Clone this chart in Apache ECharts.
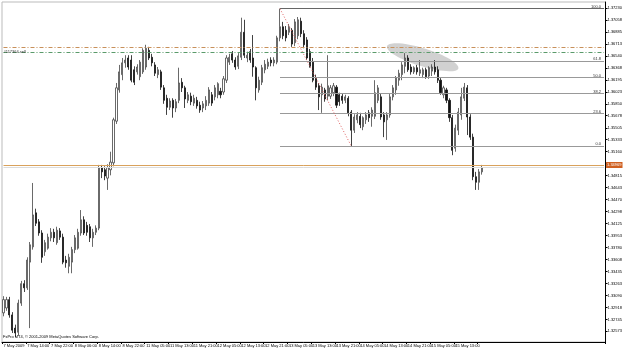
<!DOCTYPE html>
<html>
<head>
<meta charset="utf-8">
<script src="https://cdn.jsdelivr.net/npm/echarts@6/dist/echarts.min.js"></script>
<style>
html,body{margin:0;padding:0;background:#fff}
#main{width:625px;height:350px}
</style>
</head>
<body>
<div id="main"></div>
<script>
// EURUSD H1, 7-15 May 2009 : [open, close, low, high]
var candles = [
[1.3284,1.3303,1.3279,1.3308],[1.3291,1.3303,1.3287,1.3307],[1.3303,1.3281,1.3277,1.3307],[1.3281,1.3259,1.3255,1.3285],
[1.3262,1.3255,1.3249,1.3267],[1.3256,1.3298,1.3251,1.3303],[1.3298,1.3326,1.3294,1.3330],[1.3326,1.3320,1.3314,1.3331],
[1.3320,1.3360,1.3317,1.3364],[1.3357,1.3382,1.3262,1.3386],[1.3379,1.3425,1.3375,1.3471],[1.3428,1.3413,1.3409,1.3434],
[1.3415,1.3399,1.3395,1.3419],[1.3399,1.3364,1.3356,1.3403],[1.3372,1.3385,1.3366,1.3389],[1.3377,1.3393,1.3375,1.3398],
[1.3392,1.3400,1.3387,1.3406],[1.3400,1.3392,1.3386,1.3405],[1.3385,1.3403,1.3382,1.3408],[1.3402,1.3393,1.3389,1.3406],
[1.3393,1.3357,1.3354,1.3398],[1.3360,1.3356,1.3349,1.3366],[1.3351,1.3364,1.3341,1.3369],[1.3357,1.3375,1.3341,1.3379],
[1.3375,1.3392,1.3370,1.3396],[1.3377,1.3400,1.3375,1.3405],[1.3399,1.3418,1.3395,1.3432],[1.3418,1.3399,1.3396,1.3423],
[1.3410,1.3400,1.3395,1.3415],[1.3408,1.3392,1.3386,1.3412],[1.3392,1.3400,1.3379,1.3405],[1.3400,1.3406,1.3396,1.3410],
[1.3406,1.3493,1.3403,1.3497],[1.3493,1.3487,1.3478,1.3497],[1.3490,1.3481,1.3475,1.3495],[1.3478,1.3493,1.3461,1.3498],
[1.3490,1.3501,1.3482,1.3516],[1.3500,1.3562,1.3495,1.3565],[1.3560,1.3608,1.3556,1.3615],[1.3605,1.3631,1.3601,1.3641],
[1.3627,1.3644,1.3619,1.3651],[1.3644,1.3648,1.3637,1.3655],[1.3651,1.3638,1.3634,1.3655],[1.3648,1.3619,1.3616,1.3655],
[1.3634,1.3616,1.3612,1.3639],[1.3631,1.3638,1.3627,1.3642],[1.3624,1.3645,1.3619,1.3648],[1.3631,1.3662,1.3628,1.3665],
[1.3638,1.3665,1.3634,1.3670],[1.3662,1.3651,1.3648,1.3667],[1.3652,1.3644,1.3639,1.3657],[1.3641,1.3629,1.3625,1.3645],
[1.3627,1.3634,1.3622,1.3638],[1.3631,1.3609,1.3605,1.3634],[1.3608,1.3590,1.3585,1.3612],[1.3593,1.3580,1.3569,1.3598],
[1.3580,1.3589,1.3576,1.3593],[1.3590,1.3579,1.3565,1.3593],[1.3579,1.3588,1.3573,1.3592],[1.3590,1.3615,1.3586,1.3637],
[1.3616,1.3608,1.3602,1.3622],[1.3608,1.3592,1.3579,1.3611],[1.3590,1.3598,1.3586,1.3602],[1.3596,1.3588,1.3583,1.3601],
[1.3586,1.3593,1.3582,1.3598],[1.3590,1.3582,1.3578,1.3595],[1.3583,1.3576,1.3572,1.3588],[1.3579,1.3585,1.3573,1.3589],
[1.3582,1.3590,1.3576,1.3596],[1.3586,1.3605,1.3582,1.3609],[1.3598,1.3586,1.3582,1.3602],[1.3595,1.3608,1.3590,1.3612],
[1.3598,1.3614,1.3593,1.3616],[1.3603,1.3598,1.3593,1.3608],[1.3602,1.3621,1.3598,1.3625],[1.3619,1.3651,1.3615,1.3655],
[1.3645,1.3652,1.3641,1.3657],[1.3657,1.3648,1.3644,1.3661],[1.3648,1.3638,1.3634,1.3652],[1.3639,1.3654,1.3635,1.3658],
[1.3652,1.3688,1.3648,1.3709],[1.3688,1.3655,1.3651,1.3706],[1.3651,1.3655,1.3645,1.3660],[1.3660,1.3648,1.3644,1.3664],
[1.3651,1.3638,1.3624,1.3684],[1.3637,1.3608,1.3590,1.3639],[1.3605,1.3619,1.3601,1.3624],[1.3616,1.3637,1.3612,1.3641],
[1.3634,1.3642,1.3629,1.3648],[1.3639,1.3645,1.3635,1.3650],[1.3648,1.3644,1.3639,1.3652],[1.3644,1.3648,1.3639,1.3652],
[1.3645,1.3680,1.3642,1.3683],[1.3680,1.3696,1.3675,1.3722],[1.3696,1.3683,1.3678,1.3703],[1.3691,1.3680,1.3675,1.3697],
[1.3688,1.3696,1.3684,1.3700],[1.3691,1.3671,1.3667,1.3694],[1.3673,1.3703,1.3668,1.3707],[1.3683,1.3706,1.3678,1.3710],
[1.3704,1.3686,1.3681,1.3709],[1.3686,1.3670,1.3665,1.3691],[1.3677,1.3651,1.3648,1.3681],[1.3660,1.3639,1.3637,1.3664],
[1.3645,1.3619,1.3616,1.3651],[1.3622,1.3609,1.3605,1.3627],[1.3611,1.3595,1.3576,1.3615],[1.3598,1.3609,1.3572,1.3614],
[1.3605,1.3592,1.3588,1.3608],[1.3596,1.3611,1.3590,1.3655],[1.3596,1.3608,1.3592,1.3612],[1.3601,1.3611,1.3596,1.3615],
[1.3609,1.3583,1.3579,1.3612],[1.3598,1.3588,1.3582,1.3601],[1.3596,1.3590,1.3585,1.3599],[1.3590,1.3595,1.3586,1.3598],
[1.3593,1.3572,1.3567,1.3596],[1.3573,1.3547,1.3524,1.3576],[1.3547,1.3566,1.3543,1.3570],[1.3562,1.3569,1.3557,1.3573],
[1.3567,1.3555,1.3550,1.3572],[1.3552,1.3565,1.3547,1.3567],[1.3562,1.3569,1.3556,1.3573],[1.3572,1.3565,1.3559,1.3576],
[1.3567,1.3576,1.3552,1.3580],[1.3567,1.3601,1.3563,1.3619],[1.3590,1.3608,1.3586,1.3612],[1.3595,1.3566,1.3562,1.3599],
[1.3569,1.3559,1.3537,1.3573],[1.3562,1.3569,1.3533,1.3573],[1.3569,1.3595,1.3565,1.3599],[1.3595,1.3608,1.3590,1.3612],
[1.3605,1.3622,1.3598,1.3625],[1.3619,1.3629,1.3611,1.3634],[1.3627,1.3641,1.3619,1.3645],[1.3639,1.3651,1.3629,1.3658],
[1.3651,1.3634,1.3631,1.3655],[1.3638,1.3631,1.3627,1.3642],[1.3631,1.3637,1.3628,1.3639],[1.3637,1.3631,1.3627,1.3641],
[1.3629,1.3634,1.3625,1.3648],[1.3627,1.3634,1.3622,1.3637],[1.3634,1.3624,1.3621,1.3637],[1.3625,1.3637,1.3621,1.3639],
[1.3632,1.3638,1.3625,1.3642],[1.3638,1.3631,1.3627,1.3648],[1.3634,1.3619,1.3615,1.3639],[1.3619,1.3601,1.3598,1.3622],
[1.3598,1.3608,1.3593,1.3611],[1.3605,1.3590,1.3586,1.3608],[1.3590,1.3565,1.3559,1.3593],[1.3565,1.3518,1.3511,1.3569],
[1.3521,1.3550,1.3516,1.3555],[1.3547,1.3573,1.3540,1.3579],[1.3569,1.3595,1.3562,1.3608],[1.3593,1.3609,1.3589,1.3615],
[1.3608,1.3566,1.3540,1.3612],[1.3566,1.3537,1.3533,1.3570],[1.3537,1.3480,1.3475,1.3542],[1.3480,1.3472,1.3461,1.3487],
[1.3472,1.3487,1.3461,1.3491],[1.3487,1.3493,1.3483,1.3497]
];

var xTickLabels = ['7 May 2009','7 May 14:00','7 May 22:00','8 May 06:00','8 May 14:00','8 May 22:00',
  '11 May 05:00','11 May 13:00','11 May 21:00','12 May 05:00','12 May 13:00','12 May 21:00',
  '13 May 05:00','13 May 13:00','13 May 21:00','14 May 05:00','14 May 13:00','14 May 21:00',
  '15 May 05:00','15 May 13:00','15 May 21:00'];

var yTickValues = [1.37230,1.37058,1.36885,1.36713,1.36540,1.36368,1.36195,1.36023,1.35850,1.35678,
  1.35505,1.35333,1.35160,1.34988,1.34815,1.34643,1.34470,1.34298,1.34125,1.33953,1.33780,1.33608,
  1.33435,1.33263,1.33090,1.32918,1.32745,1.32573];

var slots = 203;      // bars + empty shift on the right
var yMin = 1.32420, yMax = 1.37316;

var fibLevels = ['0.0','23.6','38.2','50.0','61.8','100.0'];
var fibHighBar = 93, fibLowBar = 117;

var orderPrices = [1.36668, 1.36596];
var bidPrice = 1.34969, askPrice = 1.34935;

var cats = [];
for (var i = 0; i < slots; i++) cats.push(String(i));

var fibHigh = candles[fibHighBar][3], fibLow = candles[fibLowBar][2];

function showTick(idx) { return idx % 8 === 0 && idx / 8 < xTickLabels.length; }

// horizontal line across the whole chart
function hLine(p, style, label) {
  return [
    {coord: [0, p], lineStyle: style, label: label || {show: false}},
    {coord: [slots - 1, p]}
  ];
}

var marks = [];
fibLevels.forEach(function (lv) {
  var p = fibLow + (fibHigh - fibLow) * parseFloat(lv) / 100;
  marks.push([
    {coord: [fibHighBar, p], lineStyle: {color: lv === '100.0' ? '#666' : '#999', width: 1, type: 'solid'},
     label: {show: true, formatter: lv, position: 'insideEndTop', distance: [3, 0], fontSize: 4, color: '#333'}},
    {coord: [slots - 1, p]}
  ]);
});
marks.push([
  {coord: [fibHighBar, fibHigh], lineStyle: {color: '#e06060', width: 1, type: [1, 2]}, label: {show: false}},
  {coord: [fibLowBar, fibLow]}
]);
marks.push(hLine(orderPrices[0], {color: '#c8905a', width: 1, type: [4, 2, 1, 2]}));
marks.push(hLine(orderPrices[1], {color: '#5a9a6a', width: 1, type: [4, 2, 1, 2]},
  {show: true, position: 'insideStartTop', formatter: '#117364 sell', fontSize: 4, color: '#333', distance: [0, -2]}));
marks.push(hLine(askPrice, {color: '#dcdcdc', width: 1, type: 'solid'}));
marks.push(hLine(bidPrice, {color: '#d9a25c', width: 1, type: 'solid'},
  {show: true, position: 'end', formatter: bidPrice.toFixed(5), fontSize: 4, color: '#fff',
   backgroundColor: '#d06020', padding: [1, 1], distance: 2}));

var myChart = echarts.init(document.getElementById('main'));
myChart.setOption({
  animation: false,
  backgroundColor: '#fff',
  textStyle: {fontFamily: 'Liberation Sans Narrow, Liberation Sans, sans-serif'},
  grid: {left: 2, right: 14, top: 2, bottom: 8, show: true, borderColor: '#bbb', borderWidth: 1},
  xAxis: {
    type: 'category', data: cats, boundaryGap: true,
    axisLine: {lineStyle: {color: '#000'}},
    axisTick: {show: true, length: 2, interval: showTick, lineStyle: {color: '#000'}},
    axisLabel: {interval: showTick, fontSize: 4, color: '#000', align: 'left', margin: 2,
      formatter: function (v, idx) { return xTickLabels[idx / 8]; }},
    splitLine: {show: false}
  },
  yAxis: {
    type: 'value', position: 'right', min: yMin, max: yMax, scale: true,
    axisLine: {show: true, lineStyle: {color: '#000'}},
    axisTick: {show: true, length: 2, customValues: yTickValues, lineStyle: {color: '#000'}},
    axisLabel: {customValues: yTickValues, fontSize: 4, color: '#000', margin: 2,
      formatter: function (v) { return v.toFixed(5); }},
    splitLine: {show: false}
  },
  graphic: [{
    type: 'text', left: 3, bottom: 11,
    style: {text: 'FxPro MT4, \u00a9 2001-2009 MetaQuotes Software Corp.', fontSize: 4, fill: '#000',
      fontFamily: 'Liberation Sans Narrow, Liberation Sans, sans-serif'}
  }],
  series: [{
    type: 'candlestick', data: candles, barWidth: 1.6,
    itemStyle: {color: '#fff', color0: '#111', borderColor: '#444', borderColor0: '#111', borderWidth: 0.8},
    markLine: {symbol: 'none', silent: true, animation: false, data: marks}
  }]
});

// the grey ellipse round the 14 May consolidation
var pa = myChart.convertToPixel({gridIndex: 0}, [129, 1.36680]);
var pb = myChart.convertToPixel({gridIndex: 0}, [153, 1.36360]);
var cx = (pa[0] + pb[0]) / 2, cy = (pa[1] + pb[1]) / 2;
var dx = pb[0] - pa[0], dy = pb[1] - pa[1];
myChart.setOption({graphic: [{}, {
  type: 'ellipse', x: cx, y: cy, rotation: -Math.atan2(dy, dx), z: -1,
  shape: {cx: 0, cy: 0, rx: Math.sqrt(dx * dx + dy * dy) / 2, ry: 9},
  style: {fill: 'rgba(190,190,190,0.7)'}
}]});
</script>
</body>
</html>
